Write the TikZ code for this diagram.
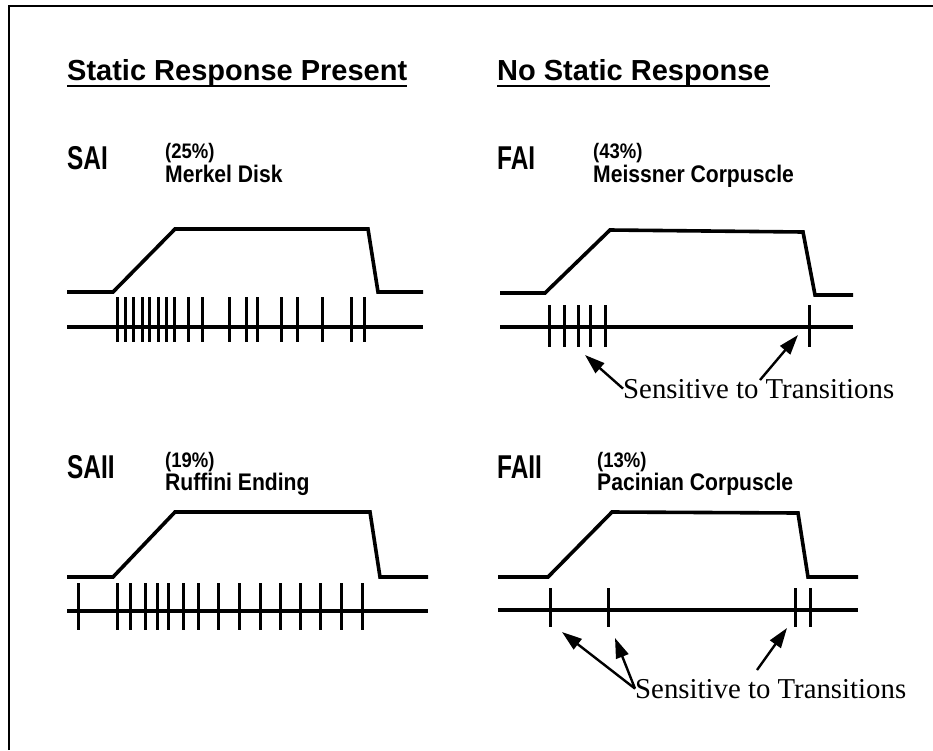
\documentclass[tikz,border=0pt]{standalone}
\usepackage{fontspec}
\setmainfont{Liberation Serif}
\newfontfamily\labfont{Liberation Sans}
\newfontfamily\narrowfont[FakeStretch=0.88]{Liberation Sans}
\newfontfamily\typefont[FakeStretch=0.74]{Liberation Sans}
\usetikzlibrary{arrows.meta}
\tikzstyle{every node}=[inner sep=0pt, anchor=base west]
\tikzstyle{head}=[font={\fontsize{29}{34}\labfont\bfseries}]
\tikzstyle{type}=[font={\fontsize{33}{36}\typefont\bfseries}]
\tikzstyle{pct}=[font={\fontsize{21}{24}\narrowfont\bfseries}]
\tikzstyle{organ}=[font={\fontsize{24}{28}\narrowfont\bfseries}]
\tikzstyle{sens}=[font={\fontsize{28.8}{32}\selectfont}]
\tikzstyle{frame}=[line width=2.4pt]
\tikzstyle{uline}=[line width=2.4pt]
\tikzstyle{stim}=[line width=3.6pt]
\tikzstyle{train}=[line width=3.2pt]
\tikzstyle{spike}=[line width=3pt]
\tikzstyle{note}=[->, line width=2.4pt]
\newcommand{\spikes}[3]{\foreach \sx in {#3} \draw[spike] (\sx,#1) -- (\sx,#2);}

\begin{document}
\begin{tikzpicture}[x=1pt, y=-1pt, >={Triangle[length=20pt,width=13pt]}]
    \useasboundingbox (0,0) rectangle (933,750);
    \draw[frame] (9,750) -- (9,6) -- (933,6);

    % headings
    \node[head] (static) at (67,80) {Static Response Present};
    \node[head] (nostatic) at (497,80) {No Static Response};
    \draw[uline] ([yshift=-6pt]static.base west) -- ([yshift=-6pt]static.base east);
    \draw[uline] ([yshift=-6pt]nostatic.base west) -- ([yshift=-6pt]nostatic.base east);

    % SAI
    \node[type] (sai) at (67,169) {SAI};
    \node[pct] (saipct) at (165,158) {(25\%)};
    \node[organ] (merkel) at (165,182) {Merkel Disk};
    \draw[stim] (67,292) -- (113,292) -- (175,229) -- (368,229) -- (378,292) -- (423,292);
    \draw[train] (67,327) -- (423,327);
    \spikes{297}{342}{117,125,133,142,149,158,166,174,188,202,229,246,257,281,297,322,351,364}

    % FAI
    \node[type] (fai) at (497,169) {FAI};
    \node[pct] (faipct) at (593,158) {(43\%)};
    \node[organ] (meissner) at (593,182) {Meissner Corpuscle};
    \draw[stim] (500,293) -- (545,293) -- (610,230) -- (803,232) -- (815,295) -- (853,295);
    \draw[train] (500,327) -- (853,327);
    \spikes{305}{347}{549,564,578,590,605,809}
    \node[sens] (sens1) at (623,398) {Sensitive to Transitions};
    \coordinate (faion) at (585,355);
    \coordinate (faioff) at (798,335);
    \coordinate (faitail) at (760,380);
    \draw[note] (sens1.west) -- (faion);
    \draw[note] (faitail) -- (faioff);

    % SAII
    \node[type] (saii) at (67,478) {SAII};
    \node[pct] (saiipct) at (165,467) {(19\%)};
    \node[organ] (ruffini) at (165,490) {Ruffini Ending};
    \draw[stim] (67,577) -- (113,577) -- (175,512) -- (370,512) -- (380,577) -- (428,577);
    \draw[train] (67,611) -- (428,611);
    \spikes{583}{630}{78,117,130,145,157,168,183,198,218,239,260,280,300,320,341,362}

    % FAII
    \node[type] (faii) at (497,478) {FAII};
    \node[pct] (faiipct) at (597,467) {(13\%)};
    \node[organ] (pacinian) at (597,490) {Pacinian Corpuscle};
    \draw[stim] (498,577) -- (548,577) -- (612,512) -- (798,513) -- (808,577) -- (858,577);
    \draw[train] (498,610) -- (858,610);
    \spikes{588}{627}{550,608,795,810}
    \node[sens] (sens2) at (635,698) {Sensitive to Transitions};
    \coordinate (faiiona) at (562,632);
    \coordinate (faiionb) at (615,638);
    \coordinate (faiioff) at (787,628);
    \coordinate (faiitail) at (757,670);
    \draw[note] (sens2.west) -- (faiiona);
    \draw[note] (sens2.west) -- (faiionb);
    \draw[note] (faiitail) -- (faiioff);
\end{tikzpicture}
\end{document}
